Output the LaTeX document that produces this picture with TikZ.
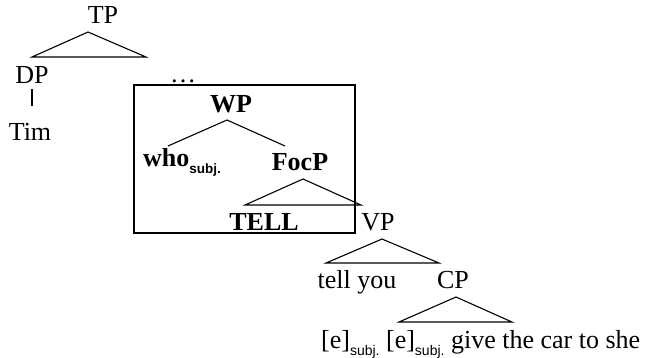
\documentclass[tikz,border=0pt]{standalone}
\usepackage{fontspec}
\setmainfont{Liberation Serif}
\newfontfamily\subjfont{Liberation Sans}
\usetikzlibrary{positioning}

% subscripts are set in a small sans
\newcommand{\subjsub}{\raisebox{-0.6ex}{\fontsize{14}{14}\selectfont\subjfont subj.}}
\newcommand{\subjsubbf}{\raisebox{-0.6ex}{\fontsize{13.5}{14}\selectfont\subjfont\bfseries subj.}}

\tikzset{
	lbl/.style={anchor=base, inner sep=0pt, font=\fontsize{26}{30}\selectfont},
	lblb/.style={lbl, font=\fontsize{26}{30}\selectfont\bfseries},
	branch/.style={line width=1.1pt},
	focusbox/.style={line width=1.8pt}
}

\begin{document}
\begin{tikzpicture}[x=1pt, y=-1pt]
	\useasboundingbox (0,0) rectangle (658,357);
	% upper part of the tree
	\node[lbl] (tp) at (103,23) {TP};
	\node[lbl] (dp) at (32,83) {DP};
	\node[lbl] (tim) at (30,140) {Tim};
	\node[lbl] (dots) at (183,82) {\dots};
	\coordinate (tp-top) at (88,32);
	\draw[branch] (tp-top) -- (32,57) coordinate (tp-l) -- (146,57) coordinate (tp-r) -- cycle;
	\draw[branch, shorten <=6pt, shorten >=17pt] (dp.south) -- (dp.south |- tim.north);
	% boxed WP projection
	\draw[focusbox] (134,85) rectangle (355,233);
	\node[lblb] (wp) at (231,112) {WP};
	\node[lblb, anchor=base west] (who) at (143,166) {who\subjsubbf};
	\node[lblb] (foc) at (300,170) {FocP};
	\node[lblb] (tell) at (264,230) {TELL};
	\coordinate (wp-top) at (227,120);
	\draw[branch] (168,146) coordinate (who-up) -- (wp-top) -- (285,146) coordinate (foc-up);
	\coordinate (foc-top) at (303,179);
	\draw[branch] (foc-top) -- (245,205) coordinate (foc-l) -- (361,205) coordinate (foc-r) -- cycle;
	% VP and its complement
	\node[lbl] (vp) at (378,230) {VP};
	\node[lbl] (tellyou) at (357,288) {tell you};
	\node[lbl] (cp) at (453,288) {CP};
	\node[lbl, anchor=base west] (emb) at (321,348) {[e]\subjsub{} [e]\subjsub{} give the car to she};
	\coordinate (vp-top) at (382,239);
	\draw[branch] (vp-top) -- (326,263) coordinate (vp-l) -- (439,263) coordinate (vp-r) -- cycle;
	\coordinate (cp-top) at (456,297);
	\draw[branch] (cp-top) -- (399,322) coordinate (cp-l) -- (512,322) coordinate (cp-r) -- cycle;
\end{tikzpicture}
\end{document}
